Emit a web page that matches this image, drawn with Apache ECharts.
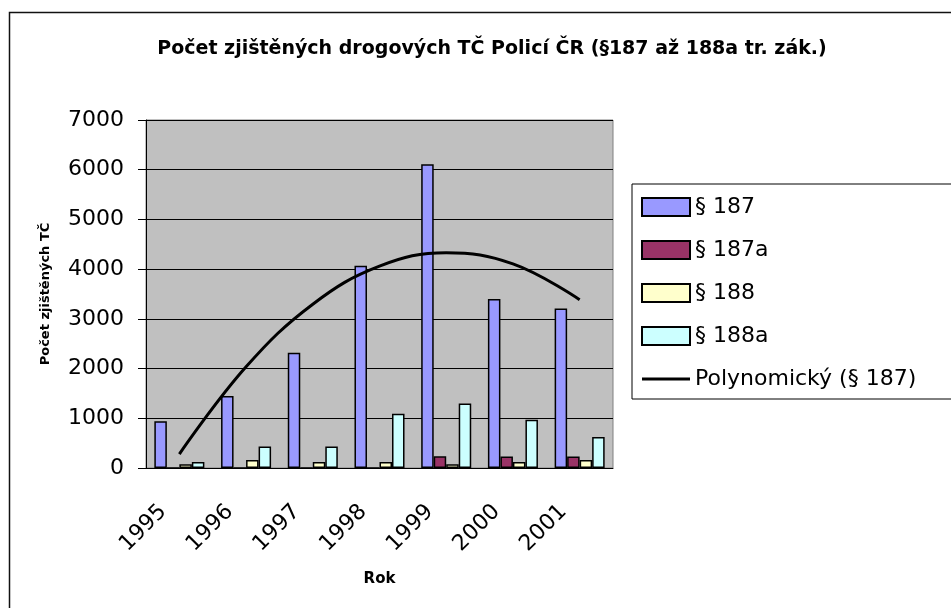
<!DOCTYPE html>
<html>
<head>
<meta charset="utf-8">
<script src="https://cdn.jsdelivr.net/npm/echarts@6/dist/echarts.min.js"></script>
<style>
  html, body { margin: 0; padding: 0; background: #fff; }
  #chart { width: 951px; height: 608px; }
</style>
</head>
<body>
<div id="chart"></div>
<script>
// data
var years = ["1995", "1996", "1997", "1998", "1999", "2000", "2001"];
var s187 = [940, 1450, 2320, 4070, 6110, 3400, 3210];
var s187a = [0, 0, 0, 0, 235, 230, 230];
var s188 = [75, 160, 120, 120, 75, 120, 160];
var s188a = [120, 430, 430, 1090, 1295, 970, 625];
// polynomial trendline (§ 187), read at each year
var trend187 = [280, 2035, 3295, 4060, 4330, 4105, 3385];
var yTicks = [0, 1000, 2000, 3000, 4000, 5000, 6000, 7000];

var font = "'DejaVu Sans', Arial, sans-serif";
var chart = echarts.init(document.getElementById("chart"));

function barSeries(name, data, color) {
  return {
    name: name,
    type: "bar",
    data: data,
    barGap: "0%",
    barCategoryGap: "25%",
    itemStyle: { color: color, borderColor: "#000", borderWidth: 1.5 }
  };
}

var option = {
  animation: false,
  backgroundColor: "#fff",
  textStyle: { fontFamily: font },
  title: {
    text: "Počet zjištěných drogových TČ Policí ČR (§187 až 188a tr. zák.)",
    left: 487,
    top: 35,
    textAlign: "center",
    textStyle: { fontSize: 19, fontWeight: "bold", color: "#000", fontFamily: font }
  },
  graphic: [{
    type: "rect",
    shape: { x: 9.5, y: 12.5, width: 945, height: 610 },
    style: { fill: null, stroke: "#111", lineWidth: 1.5 },
    silent: true
  }],
  legend: {
    orient: "vertical",
    left: 632,
    top: 184,
    padding: [12, 40, 9, 9],
    itemWidth: 48,
    itemHeight: 18,
    itemGap: 21,
    borderColor: "#000",
    borderWidth: 1,
    textStyle: { fontSize: 22, color: "#000", fontFamily: font },
    data: [
      { name: "§ 187", icon: "rect" },
      { name: "§ 187a", icon: "rect" },
      { name: "§ 188", icon: "rect" },
      { name: "§ 188a", icon: "rect" },
      { name: "Polynomický (§ 187)", icon: "path://M0,0H48V3H0Z" }
    ]
  },
  grid: {
    left: 146,
    top: 120,
    width: 467,
    height: 348,
    show: true,
    backgroundColor: "#c0c0c0",
    borderColor: "#808080",
    borderWidth: 1
  },
  xAxis: {
    type: "category",
    data: years,
    name: "Rok",
    nameLocation: "middle",
    nameGap: 104,
    nameTextStyle: { fontSize: 15, fontWeight: "bold", color: "#000", fontFamily: font },
    axisLine: { lineStyle: { color: "#000", width: 1 } },
    axisTick: { length: 7, lineStyle: { color: "#000" } },
    axisLabel: {
      rotate: 45,
      fontSize: 22,
      color: "#000",
      margin: 24,
      interval: 0,
      padding: [0, 23, 0, 0]
    }
  },
  yAxis: {
    type: "value",
    min: 0,
    max: 7000,
    interval: 1000,
    name: "Počet zjištěných TČ",
    nameLocation: "middle",
    nameGap: 94,
    nameTextStyle: { fontSize: 13, fontWeight: "bold", color: "#000", fontFamily: font },
    axisLine: { show: true, lineStyle: { color: "#000", width: 1 } },
    axisTick: { show: true, length: 8, lineStyle: { color: "#000" } },
    axisLabel: {
      fontSize: 22,
      color: "#000",
      margin: 22,
      formatter: function (v) { return yTicks.indexOf(v) >= 0 ? String(v) : ""; }
    },
    splitLine: { lineStyle: { color: "#000", width: 1 } }
  },
  series: [
    barSeries("§ 187", s187, "#9999ff"),
    barSeries("§ 187a", s187a, "#993366"),
    barSeries("§ 188", s188, "#ffffcc"),
    barSeries("§ 188a", s188a, "#ccffff"),
    {
      name: "Polynomický (§ 187)",
      type: "line",
      data: trend187,
      smooth: 0.4,
      symbol: "none",
      z: 5,
      lineStyle: { color: "#000", width: 3 },
      itemStyle: { color: "#000" }
    }
  ]
};

chart.setOption(option);
</script>
</body>
</html>
